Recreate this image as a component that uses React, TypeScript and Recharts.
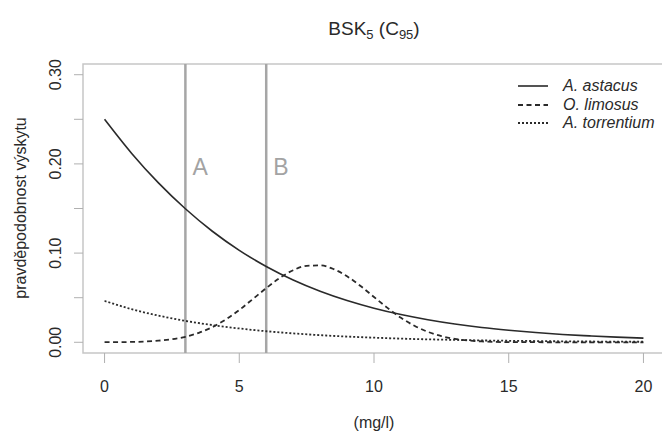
import React from 'react';
import { LineChart, Line, XAxis, YAxis, ReferenceLine, ReferenceArea, Legend } from 'recharts';

// mg/l grid used by the two monotonic curves
const xs = [0, 1, 2, 3, 4, 5, 6, 7, 8, 9, 10, 11, 12, 13, 14, 15, 16, 17, 18, 19, 20];
const astacusVals = [0.25, 0.212, 0.1787, 0.1497, 0.1245, 0.1031, 0.085, 0.0698, 0.0572, 0.0468, 0.0382, 0.0311, 0.0253, 0.0205, 0.0166, 0.0135, 0.0109, 0.0088, 0.0072, 0.0058, 0.0047];
const torrentiumVals = [0.0464, 0.0372, 0.0299, 0.024, 0.0193, 0.0155, 0.0124, 0.01, 0.008, 0.0064, 0.0052, 0.0041, 0.0033, 0.0027, 0.0021, 0.0017, 0.0014, 0.0011, 0.0009, 0.0007, 0.0006];

// finer grid for the bell-shaped O. limosus curve
const limosusX = [0, 1, 2, 3, 3.5, 4, 4.5, 5, 5.5, 6, 6.5, 7, 7.5, 8, 8.5, 9, 9.5, 10, 10.5, 11, 11.5, 12, 12.5, 13, 14, 15, 16, 17, 18, 19, 20];
const limosusVals = [0.0001, 0.0004, 0.0018, 0.0062, 0.0106, 0.017, 0.0256, 0.0362, 0.0484, 0.0607, 0.0721, 0.0808, 0.0857, 0.0862, 0.0821, 0.074, 0.0631, 0.0508, 0.0386, 0.0275, 0.0185, 0.0117, 0.0069, 0.0039, 0.001, 0.0002, 0.0001, 0, 0, 0, 0];

const xTicks = [0, 5, 10, 15, 20];
const yTicks = [0, 0.05, 0.1, 0.15, 0.2, 0.25, 0.3];
const thresholds = [
  { x: 3, label: 'A' },
  { x: 6, label: 'B' },
];

const astacusData = xs.map((x, i) => ({ x, y: astacusVals[i] }));
const torrentiumData = xs.map((x, i) => ({ x, y: torrentiumVals[i] }));
const limosusData = limosusX.map((x, i) => ({ x, y: limosusVals[i] }));

const FONT = '"Liberation Sans", Arial, sans-serif';
const INK = '#2a2a2a';

const series = [
  { name: 'A. astacus', data: astacusData, dash: undefined as string | undefined, width: 1.6 },
  { name: 'O. limosus', data: limosusData, dash: '5 3.5', width: 1.8 },
  { name: 'A. torrentium', data: torrentiumData, dash: '2 2', width: 1.8 },
];

const XTick = (props: any) => {
  const { x, y, payload } = props;
  return (
    <text x={x} y={y + 21} textAnchor="middle" dominantBaseline="central" fontSize={16} fontFamily={FONT} fill={INK}>
      {payload.value}
    </text>
  );
};

const YTick = (props: any) => {
  const { x, y, payload } = props;
  const v = payload.value as number;
  if (Math.round(v * 100) % 10 !== 0) return <g />;
  const cx = x - 16;
  return (
    <text x={cx} y={y} textAnchor="middle" dominantBaseline="central" fontSize={16} fontFamily={FONT} fill={INK} transform={`rotate(-90, ${cx}, ${y})`}>
      {v.toFixed(2)}
    </text>
  );
};

const LineTag = (props: any) => {
  const { viewBox, text } = props;
  return (
    <text x={viewBox.x + 7} y={viewBox.y + 111} fontSize={23} fontFamily={FONT} fill="#a3a3a3">
      {text}
    </text>
  );
};

const LegendBox = () => (
  <div style={{ fontFamily: FONT, fontSize: 16, fontStyle: 'italic', color: INK, lineHeight: '18.5px' }}>
    {series.map((s) => (
      <div key={s.name} style={{ display: 'flex', alignItems: 'center', whiteSpace: 'nowrap' }}>
        <svg width={48} height={18}>
          <line x1={3} x2={33} y1={9} y2={9} stroke={INK} strokeWidth={s.width} strokeDasharray={s.dash} />
        </svg>
        <span>{s.name}</span>
      </div>
    ))}
  </div>
);

export default function App() {
  return (
    <div style={{ position: 'absolute', left: 0, top: 0, width: 662, height: 435, overflow: 'hidden', background: '#fff' }}>
      <LineChart width={668} height={435} margin={{ top: 64, right: 3, bottom: 0, left: 0 }}>
        <XAxis
          type="number"
          dataKey="x"
          domain={[-0.8, 20.8]}
          ticks={xTicks}
          allowDataOverflow
          axisLine={false}
          tickLine={{ stroke: '#b0b0b0' }}
          tickSize={10}
          height={82}
          tick={<XTick />}
          allowDuplicatedCategory={false}
        />
        <YAxis
          type="number"
          domain={[-0.012, 0.312]}
          ticks={yTicks}
          allowDataOverflow
          axisLine={false}
          tickLine={{ stroke: '#b0b0b0' }}
          tickSize={9}
          width={83}
          tick={<YTick />}
        />
        <ReferenceArea x1={-0.8} x2={20.8} y1={-0.012} y2={0.312} fill="none" stroke="#c6c6c6" strokeWidth={1.5} />
        {thresholds.map((t) => (
          <ReferenceLine key={t.label} x={t.x} stroke="#a6a6a6" strokeWidth={2.5} label={<LineTag text={t.label} />} />
        ))}
        {series.map((s) => (
          <Line
            key={s.name}
            name={s.name}
            data={s.data}
            dataKey="y"
            type="monotone"
            stroke={INK}
            strokeWidth={s.width}
            strokeDasharray={s.dash}
            dot={false}
            activeDot={false}
            isAnimationActive={false}
          />
        ))}
        <Legend
          layout="vertical"
          align="center"
          verticalAlign="middle"
          content={() => <LegendBox />}
          wrapperStyle={{ left: 515, top: 77, width: 160, height: 60 }}
        />
      </LineChart>
      <svg width={662} height={435} style={{ position: 'absolute', left: 0, top: 0, pointerEvents: 'none' }}>
        <text x={374} y={35} textAnchor="middle" fontSize={19} fontFamily={FONT} fill={INK}>
          BSK<tspan fontSize={13} dy={4}>5</tspan>
          <tspan dy={-4}> (C</tspan>
          <tspan fontSize={13} dy={4}>95</tspan>
          <tspan dy={-4}>)</tspan>
        </text>
        <text x={374} y={422} textAnchor="middle" dominantBaseline="central" fontSize={16} fontFamily={FONT} fill={INK}>
          (mg/l)
        </text>
        <text x={20} y={208} textAnchor="middle" dominantBaseline="central" fontSize={16} fontFamily={FONT} fill={INK} transform="rotate(-90, 20, 208)">
          pravděpodobnost výskytu
        </text>
      </svg>
    </div>
  );
}
